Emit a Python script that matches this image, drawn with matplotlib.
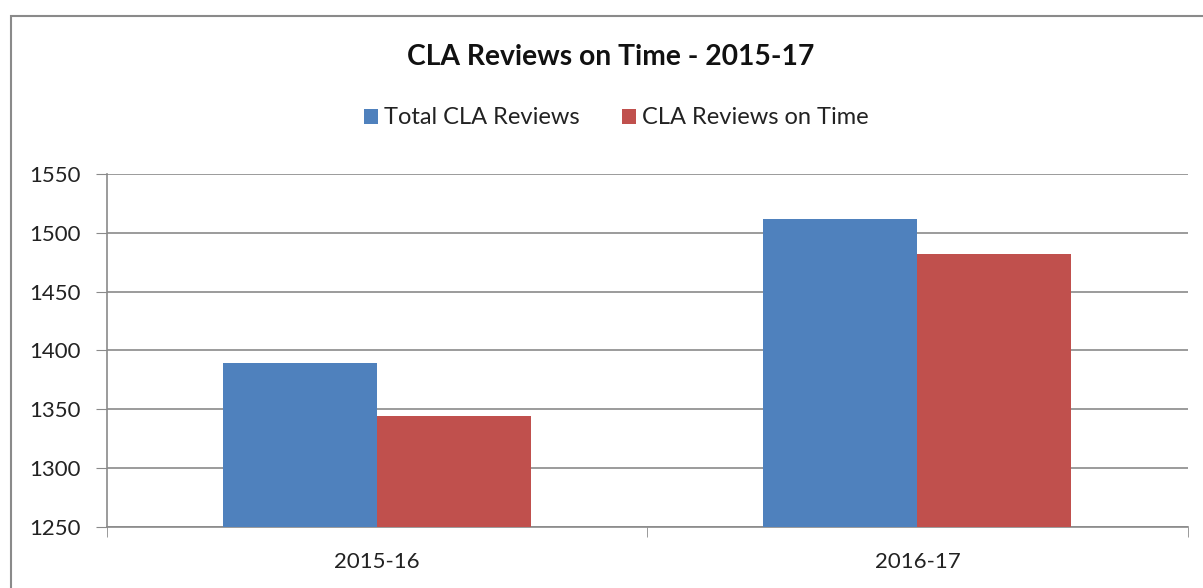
import numpy as np
import matplotlib.pyplot as plt
from matplotlib.patches import Rectangle

# dữ liệu
categories = ['2015-16', '2016-17']
total_reviews = [1389, 1512]
on_time_reviews = [1344, 1482]
series_names = ['Total CLA Reviews', 'CLA Reviews on Time']
yticks = [1250, 1300, 1350, 1400, 1450, 1500, 1550]

plt.rcParams['font.family'] = ['Lato', 'DejaVu Sans']

fig = plt.figure(figsize=(12.03, 5.88), dpi=100)
fig.patch.set_facecolor('white')

# khung viền ngoài
fig.patches.append(Rectangle((11 / 1203, -0.1), 1.2, 1 - 16 / 588 + 0.1,
                             transform=fig.transFigure, fill=False,
                             edgecolor='#8a8a8a', linewidth=1.5))

ax = fig.add_axes([106.7 / 1203, 1 - 526.7 / 588,
                   (1187.7 - 106.7) / 1203, (526.7 - 174) / 588])

x = np.arange(len(categories))
w = 0.285
b1 = ax.bar(x - w / 2, np.array(total_reviews) - 1250, w, bottom=1250,
            color='#4F81BD', label=series_names[0], zorder=3)
b2 = ax.bar(x + w / 2, np.array(on_time_reviews) - 1250, w, bottom=1250,
            color='#C0504D', label=series_names[1], zorder=3)

ax.set_ylim(1250, 1550)
ax.set_xlim(-0.5, len(categories) - 0.5)
ax.set_yticks(yticks)
ax.set_xticks(x)
ax.set_xticklabels(categories)
ax.set_xticks(np.arange(len(categories) + 1) - 0.5, minor=True)
ax.tick_params(axis='x', which='major', length=0, pad=18, labelsize=16, colors='#222222')
ax.tick_params(axis='x', which='minor', length=7, color='#8a8a8a')
ax.tick_params(axis='y', length=8, color='#8a8a8a', labelsize=16, labelcolor='#222222', pad=11)
ax.yaxis.grid(True, color='#8a8a8a', linewidth=1.2, zorder=0)
ax.set_axisbelow(True)
for s in ['top', 'right']:
    ax.spines[s].set_visible(False)
for s in ['left', 'bottom']:
    ax.spines[s].set_color('#8a8a8a')
    ax.spines[s].set_linewidth(1.2)

fig.text(611 / 1203, 1 - 57 / 588, 'CLA Reviews on Time - 2015-17', ha='center', va='center',
         fontsize=20.3, fontweight='bold', color='#111111')
fig.legend(handles=[b1, b2], loc='center', bbox_to_anchor=(616 / 1203, 1 - 118 / 588),
           ncol=2, frameon=False, fontsize=17, handlelength=0.6, handleheight=0.6,
           handletextpad=0.25, columnspacing=1.8, labelcolor='#222222')

fig.savefig('out.png', dpi=100)
